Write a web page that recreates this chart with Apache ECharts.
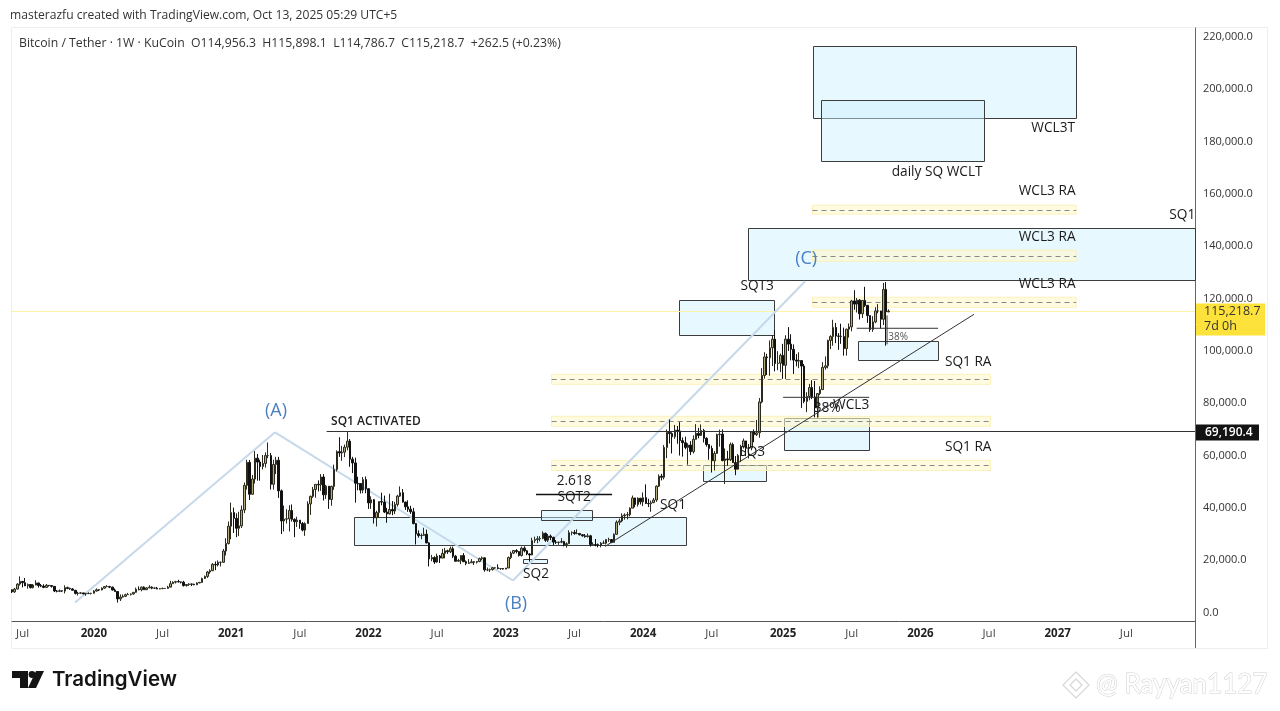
<!DOCTYPE html>
<html><head><meta charset="utf-8">
<style>html,body{margin:0;padding:0;background:#fff}#c{width:1280px;height:711px}</style>
<script src="https://cdn.jsdelivr.net/npm/echarts@6/dist/echarts.min.js"></script>
</head><body><div id="c"></div>
<script>
// Weekly candles, in thousands of USD: [high, low, close]. Open = prior close.
const firstWeek = '2019-06-03';
const firstOpen = 8.7;
const weeks2019 = [[8.8,7.45,7.9],[9.4,7.5,8.95],[11.2,8.9,10.85],[13.8,10.3,11.9],[12.0,9.6,11.4],[13.2,10.1,10.2],[11.1,9.1,10.7],[10.7,9.2,9.5],[10.9,9.2,10.5],[12.3,10.4,11.3],[11.4,9.5,10.3],[10.9,9.7,10.1],[10.8,9.3,9.6],[10.9,9.5,10.4],[10.5,9.9,10.3],[10.4,9.5,10.0],[10.1,7.8,8.2],[8.6,7.7,8.1],[8.8,7.8,8.3],[8.4,7.8,8.2],[10.4,7.3,9.5],[9.9,8.9,9.2],[9.5,8.7,9.0],[9.3,8.4,8.5],[8.6,6.9,7.3],[7.9,6.5,7.4],[7.7,7.1,7.5],[7.5,7.0,7.1],[7.5,6.4,7.2],[7.7,7.1,7.3]];
const weeks2020 = [[7.5,6.9,7.35],[8.5,7.3,8.2],[9.2,8.0,8.7],[8.8,8.2,8.6],[9.6,8.5,9.3],[10.1,9.1,9.9],[10.5,9.7,9.9],[10.2,9.3,9.7],[9.9,8.4,8.6],[9.2,8.0,8.0],[8.2,3.8,5.2],[6.9,4.4,5.9],[6.9,5.7,6.2],[7.2,5.9,6.8],[7.5,6.7,6.9],[7.3,6.5,7.1],[7.8,6.8,7.7],[9.5,7.6,8.9],[10.0,8.5,8.7],[9.9,8.1,9.7],[10.0,8.8,8.7],[9.7,8.6,9.4],[10.4,9.3,9.7],[10.0,8.9,9.3],[9.6,9.0,9.3],[9.8,8.9,9.0],[9.3,8.9,9.1],[9.5,9.0,9.2],[9.3,9.1,9.2],[10.2,9.1,9.7],[12.1,9.9,11.0],[11.9,11.0,11.6],[12.1,11.1,11.8],[12.5,11.5,11.7],[11.8,11.1,11.6],[12.1,9.9,10.3],[10.7,9.9,10.7],[11.2,10.2,10.9],[11.0,10.1,10.8],[11.0,10.4,10.6],[11.5,10.5,11.3],[11.7,11.2,11.5],[13.3,11.4,13.0],[14.1,12.8,13.8],[15.9,13.2,15.5],[16.5,14.8,16.0],[18.9,15.8,18.4],[19.5,16.2,18.2],[19.9,17.6,19.2],[19.4,17.6,19.2],[24.3,19.0,23.5],[28.4,21.8,26.4],[34.8,26.0,33.0]];
const weeks2021 = [[42.0,28.0,38.2],[40.1,30.4,36.0],[37.9,28.8,32.2],[38.5,29.2,33.1],[40.9,32.3,39.2],[49.7,38.0,48.6],[58.4,47.0,57.4],[58.3,43.0,45.2],[52.6,45.0,51.0],[61.7,49.3,59.0],[60.6,50.4,57.5],[58.4,50.4,55.8],[60.2,54.7,57.0],[61.2,55.4,60.0],[65.0,59.0,60.0],[61.0,47.0,49.0],[58.4,47.0,56.6],[59.5,52.9,58.2],[59.5,43.8,46.5],[47.0,30.0,35.0],[40.9,31.0,35.7],[39.5,34.0,35.8],[41.0,31.0,39.0],[41.3,34.8,35.6],[36.0,28.8,34.7],[36.6,32.7,35.3],[35.0,32.0,34.0],[34.6,31.0,31.5],[34.5,29.3,34.0],[42.5,34.0,41.5],[44.7,37.3,44.4],[48.0,43.8,47.0],[49.0,43.9,49.0],[50.5,46.3,48.8],[52.9,46.5,51.8],[52.9,42.8,45.0],[48.8,43.4,48.3],[48.3,39.6,43.2],[48.5,40.8,48.2],[56.5,46.9,54.7],[62.0,53.9,61.5],[67.0,59.5,61.0],[63.7,58.0,61.3],[64.2,59.4,63.2],[69.0,62.0,65.5],[66.3,55.7,58.6],[59.5,53.3,57.2],[59.2,42.0,49.4],[51.9,46.7,49.3],[49.5,45.5,46.8],[51.8,45.6,50.8],[52.0,45.6,47.3]];
const weeks2022 = [[47.5,39.6,41.9],[44.4,39.6,43.1],[43.4,34.0,36.2],[38.9,32.9,38.2],[42.5,36.2,42.4],[45.8,41.0,42.2],[44.7,38.0,38.4],[40.0,34.3,37.7],[45.4,37.5,39.4],[42.6,37.2,38.8],[42.3,37.6,41.3],[45.0,40.5,44.5],[48.2,44.2,45.8],[47.2,42.0,42.2],[42.4,39.2,40.4],[42.9,38.5,39.5],[40.8,37.7,38.5],[40.0,33.7,34.0],[34.2,26.0,30.1],[31.4,28.6,29.4],[30.2,28.0,29.5],[32.4,29.3,29.9],[31.7,26.5,26.6],[26.9,17.6,20.5],[22.0,19.6,21.0],[21.5,18.6,19.3],[22.5,19.0,21.6],[22.0,18.9,20.8],[24.3,20.7,22.6],[24.7,20.7,23.6],[24.0,22.4,23.2],[25.2,22.7,24.4],[25.2,20.8,21.5],[22.0,19.6,19.6],[20.5,19.5,19.9],[21.8,18.5,21.8],[22.7,19.3,19.4],[19.9,18.1,18.8],[20.4,18.5,19.0],[20.4,19.0,19.4],[19.5,18.2,19.2],[19.7,18.7,19.5],[21.0,19.2,20.6],[21.4,20.0,20.9],[21.0,15.6,16.3],[17.2,15.8,16.3],[16.8,15.5,16.4],[17.4,16.0,17.1],[17.4,16.7,17.1],[18.4,16.5,16.8],[17.0,16.3,16.8],[17.0,16.4,16.6]];
const weeks2023 = [[17.0,16.5,17.0],[21.4,17.0,21.0],[23.3,20.4,22.7],[23.9,22.3,23.7],[24.2,22.6,23.3],[23.4,21.4,21.8],[25.2,21.4,24.6],[25.3,23.0,23.6],[23.9,21.9,22.4],[22.6,19.5,22.0],[28.6,21.9,27.5],[29.0,26.6,27.9],[29.2,26.5,28.2],[29.2,27.2,28.3],[31.0,28.0,30.3],[30.5,27.0,27.6],[30.0,26.9,29.2],[29.8,27.7,28.7],[29.0,25.8,26.9],[27.7,26.2,26.8],[26.9,25.9,26.9],[28.4,26.5,27.1],[27.4,25.3,25.9],[26.8,24.8,26.3],[31.4,26.3,30.5],[31.0,29.5,30.6],[31.5,29.7,30.2],[31.8,29.9,30.2],[30.4,29.5,29.7],[30.0,29.0,29.3],[30.0,28.6,29.0],[30.2,28.7,29.3],[29.7,25.2,26.0],[26.8,25.8,26.0],[28.1,25.3,25.9],[26.4,24.9,25.8],[26.9,24.9,26.5],[27.5,26.3,26.5],[28.0,26.0,27.9],[28.6,27.0,27.9],[28.0,26.5,26.8],[30.2,26.8,29.9],[35.2,29.8,34.5],[35.9,33.4,35.0],[37.9,34.5,37.0],[37.9,35.5,37.3],[38.4,35.6,37.4],[40.2,36.7,39.9],[44.7,39.9,43.8],[43.4,40.2,41.3],[44.0,40.5,43.7],[43.8,41.3,42.3]];
const weeks2024 = [[45.9,40.7,43.9],[49.0,41.5,41.7],[43.5,40.3,41.6],[42.8,38.5,42.0],[43.8,41.8,43.0],[48.6,42.3,48.3],[52.8,48.0,52.1],[53.0,50.5,51.7],[64.0,50.9,63.1],[70.0,59.0,68.9],[73.8,64.6,68.4],[68.9,60.8,67.2],[71.7,66.4,69.7],[71.3,64.5,69.4],[72.8,60.0,65.7],[66.9,59.6,64.9],[67.2,62.4,63.1],[64.7,56.5,64.0],[65.5,60.2,61.5],[67.7,60.8,66.2],[72.0,66.1,68.5],[70.6,66.6,67.7],[71.9,67.5,69.6],[70.2,65.0,66.6],[67.0,63.4,64.2],[64.0,58.4,62.7],[63.8,53.5,58.0],[61.7,54.3,60.8],[68.4,62.0,68.0],[69.9,63.4,68.2],[70.0,57.8,58.1],[62.7,49.1,58.7],[61.8,56.1,58.4],[65.0,57.9,64.2],[64.9,57.2,57.3],[59.8,52.5,54.8],[60.6,54.6,60.0],[64.1,57.5,63.5],[66.5,62.7,65.6],[65.6,59.8,62.8],[64.4,58.9,62.9],[69.4,62.0,69.0],[70.0,65.1,68.0],[73.6,67.5,68.7],[82.0,66.8,80.5],[93.4,80.0,90.6],[99.5,89.4,97.7],[98.9,90.8,97.4],[104.0,90.5,101.2],[106.0,94.2,104.5],[108.0,92.2,95.2],[99.9,92.6,95.3]];
const weeks2025 = [[99.0,91.9,98.3],[102.7,89.3,94.5],[106.0,89.3,104.5],[109.1,100.0,102.6],[106.4,96.4,100.6],[102.5,91.2,96.5],[98.8,94.1,96.1],[99.5,93.4,96.3],[96.5,78.2,94.2],[95.0,80.0,80.7],[84.2,76.6,82.6],[87.4,81.1,86.0],[88.8,81.6,82.4],[88.5,74.6,78.2],[83.5,74.5,83.7],[86.5,83.1,85.2],[95.7,85.1,93.7],[97.9,92.8,94.3],[104.3,93.3,104.0],[106.0,100.7,105.5],[111.9,102.0,109.0],[110.7,103.0,105.7],[106.8,100.4,105.6],[110.4,102.7,105.5],[108.9,98.2,100.9],[108.5,98.2,108.3],[110.5,105.1,109.2],[119.5,107.5,119.1],[123.2,115.7,117.9],[120.2,114.7,119.4],[119.8,112.0,114.2],[119.3,112.6,119.3],[124.5,116.8,117.4],[117.6,110.7,113.5],[113.5,107.3,108.2],[113.3,107.3,111.1],[116.7,110.6,115.3],[117.9,114.4,115.3],[115.3,108.6,112.1],[126.0,109.9,123.5],[126.3,102.0,114.956],[115.898,114.787,115.219]];

// Axis ticks
const priceTicks = [0,20000,40000,60000,80000,100000,120000,140000,160000,180000,200000,220000];
const monthTicks = {'2019-07-01':'Jul','2020-01-06':'2020','2020-07-06':'Jul','2021-01-04':'2021','2021-07-05':'Jul','2022-01-03':'2022','2022-07-04':'Jul','2023-01-02':'2023','2023-07-03':'Jul','2024-01-01':'2024','2024-07-01':'Jul','2025-01-06':'2025','2025-07-07':'Jul','2026-01-05':'2026','2026-07-06':'Jul','2027-01-04':'2027','2027-07-05':'Jul'};

// Annotations, in decimal years and USD
const blueBoxes = [ // from, to, top, bottom
 [2025.22,2027.13,216550,189000],[2025.28,2026.46,195900,172550],[2024.75,2027.999,146900,127000],
 [2024.25,2024.94,119400,106000],[2025.55,2026.13,103700,96400],[2025.01,2025.63,74200,62000],
 [2024.43,2024.88,56200,50100],[2021.90,2024.30,36350,25630],[2023.25,2023.62,39000,35200],[2023.12,2023.30,20300,18750]];
const yellowBands = [ // from, to, top, mid, bottom
 [2025.22,2027.13,155700,154000,152300],[2025.22,2027.13,138500,136200,134300],[2025.22,2027.13,120500,118600,116700],
 [2023.33,2026.51,91050,89100,87230],[2023.33,2026.51,75000,73100,71200],[2023.33,2026.51,58150,56240,54300]];
const wavePoints = [[2019.877,3826],[2021.326,68870],[2023.05,12240],[2025.167,126640]];
const inkLines = [ // from year, from price, to year, to price
 [2023.717,25250,2026.39,114000],[2021.70,69190.4,2027.999,69190.4],
 [2025.54,108660,2026.13,108660],[2025.76,113600,2025.76,102500],[2025.007,82260,2025.63,82260],[2025.26,82260,2025.26,74600]];
const heavyLine = [2023.217,45150,2023.768,45150];
const waveLabels = [['(A)',2021.333,76900],['(B)',2023.072,3440],['(C)',2025.174,135060]];
const noteLabels = [['2.618',2023.493,50120],['SQT2',2023.493,44000],['SQ2',2023.217,14540],['SQ1',2024.21,40940],['SQ3',2024.783,61220],['SQT3',2024.819,124730],['WCL3',2025.50,79200],['38%',2025.326,78050],['SQ1 RA',2026.348,95650],['SQ1 RA',2026.348,63130],['WCL3 RA',2026.92,161070],['WCL3 RA',2026.92,143470],['WCL3 RA',2026.92,125490],['SQ1',2027.899,151890],['WCL3T',2026.964,185180],['daily SQ WCLT',2026.123,168340]];
const activatedLabel = ['SQ1 ACTIVATED',2021.732,73080];
const fibLabel = ['38%',2025.841,105200];
const lastPrice = 115218.7, lastCountdown = '7d 0h', activatedPrice = 69190.4;
const legendText = 'Bitcoin / Tether · 1W · KuCoin  O114,956.3  H115,898.1  L114,786.7  C115,218.7  +262.5 (+0.23%)';
const creditText = 'masterazfu created with TradingView.com, Oct 13, 2025 05:29 UTC+5';

const FONT = '"Open Sans","Noto Sans",sans-serif';
const rows = [...weeks2019,...weeks2020,...weeks2021,...weeks2022,...weeks2023,...weeks2024,...weeks2025];
const candles = rows.map((r,i)=>{const o=i?rows[i-1][2]:firstOpen;return [o*1000,r[2]*1000,r[1]*1000,r[0]*1000];});
const WEEK = 7*864e5, TOTAL = 449;
const start = Date.parse(firstWeek+'T00:00:00Z');
const categories = Array.from({length:TOTAL},(_,i)=>new Date(start+i*WEEK).toISOString().slice(0,10));
const WEEKS_AT_2020 = 30.3, WEEKS_PER_YEAR = 52.27;
const weekOfYear = y => Math.min(TOTAL-1, WEEKS_AT_2020+(y-2020)*WEEKS_PER_YEAR);
function xAt(api,year){const w=weekOfYear(year),f=Math.min(Math.floor(w),TOTAL-2);const a=api.coord([f,0])[0],b=api.coord([f+1,0])[0];return a+(w-f)*(b-a);}
const yAt=(api,p)=>api.coord([0,p])[1];
const crisp=v=>Math.round(v)+0.5;
function customSeries(list,z,render,extra){return Object.assign({type:'custom',z,silent:true,data:list.map((_,i)=>[i,0]),encode:{x:0,y:1},renderItem:(p,api)=>render(list[p.dataIndex],api)},extra||{});}
const textItem=(t,api,font,fill,align)=>({type:'text',style:{text:t[0],x:xAt(api,t[1]),y:yAt(api,t[2]),font,fill,textAlign:align||'center',textVerticalAlign:'middle'}});
const segment=(l,api,stroke,lineWidth)=>({type:'line',shape:{x1:xAt(api,l[0]),y1:yAt(api,l[1]),x2:xAt(api,l[2]),y2:yAt(api,l[3])},style:{stroke,lineWidth}});

const chart = echarts.init(document.getElementById('c'),null,{width:1280,height:711,renderer:'canvas'});
chart.setOption({
 animation:false,backgroundColor:'#fff',
 grid:{left:12,right:85,top:28,bottom:90,containLabel:false},
 xAxis:{type:'category',data:categories,boundaryGap:false,
  axisLine:{onZero:false,lineStyle:{color:'#555',width:1}},axisTick:{show:false},splitLine:{show:false},
  axisLabel:{interval:(i,v)=>v in monthTicks,hideOverlap:false,margin:7,
   formatter:v=>{const t=monthTicks[v];return t==='Jul'?'{m|Jul}':'{y|'+t+'}';},
   rich:{m:{fontFamily:FONT,fontSize:11.5,color:'#444'},y:{fontFamily:FONT,fontSize:11.5,fontWeight:700,color:'#222'}}}},
 yAxis:{type:'value',position:'right',min:-3250,max:223450,scale:false,
  axisLine:{show:true,lineStyle:{color:'#666',width:1}},axisTick:{show:false},splitLine:{show:false},
  axisLabel:{customValues:priceTicks,margin:8,fontFamily:FONT,fontSize:11,color:'#333',align:'left',padding:[2,0,0,0],
   formatter:v=>v.toLocaleString('en-US',{minimumFractionDigits:1,maximumFractionDigits:1})}},
 series:[
  customSeries(blueBoxes,1,(b,api)=>{const x1=crisp(xAt(api,b[0])),x2=crisp(xAt(api,b[1])),y1=crisp(yAt(api,b[2])),y2=crisp(yAt(api,b[3]));
    return {type:'rect',shape:{x:x1,y:y1,width:x2-x1,height:y2-y1},style:{fill:'rgba(205,240,255,0.45)',stroke:'#3c3c3c',lineWidth:1}};}),
  customSeries(yellowBands,2,(b,api)=>{const x1=xAt(api,b[0]),x2=xAt(api,b[1]),y1=yAt(api,b[2]),y2=yAt(api,b[4]),m=crisp(yAt(api,b[3]));
    return {type:'group',children:[
     {type:'rect',shape:{x:x1,y:y1,width:x2-x1,height:y2-y1},style:{fill:'rgba(255,248,205,0.6)',stroke:'#fbf1b8',lineWidth:1}},
     {type:'line',shape:{x1,y1:m,x2,y2:m},style:{stroke:'#888',lineWidth:1,lineDash:[5,4]}}]};}),
  customSeries([lastPrice],2,(p,api)=>{const y=crisp(yAt(api,p));return {type:'line',shape:{x1:12,y1:y,x2:1195,y2:y},style:{stroke:'#fdf3a8',lineWidth:1}};}),
  customSeries(wavePoints.slice(1),3,(p,api)=>{const i=wavePoints.indexOf(p),q=wavePoints[i-1];return segment([q[0],q[1],p[0],p[1]],api,'#c6d9ea',2);}),
  {type:'candlestick',z:4,silent:true,data:candles,barWidth:2,
   itemStyle:{color:'#b3ab7c',color0:'#111',borderColor:'#2b2a1c',borderColor0:'#111',borderWidth:1}},
  customSeries(inkLines,5,(l,api)=>segment(l,api,'#333',1)),
  customSeries([heavyLine],5,(l,api)=>segment(l,api,'#111',1.5)),
  customSeries(waveLabels,6,(t,api)=>textItem(t,api,'18px '+FONT,'#4a7fc4')),
  customSeries(noteLabels,6,(t,api)=>textItem(t,api,'13.7px '+FONT,'#1a1a1a')),
  customSeries([activatedLabel],6,(t,api)=>textItem(t,api,'600 12px '+FONT,'#222','left')),
  customSeries([fibLabel],6,(t,api)=>textItem(t,api,'10px '+FONT,'#555')),
  customSeries([[lastPrice,'#fde23c','#333'],[activatedPrice,'#131313','#fff']],7,(t,api)=>{
    const y=crisp(yAt(api,t[0])),isLast=t[0]===lastPrice,s=t[0].toLocaleString('en-US',{minimumFractionDigits:1});
    const top=y-8,h=isLast?32:16,w=isLast?69:63,font=(isLast?'12.5px ':'600 12px ')+FONT;
    const kids=[{type:'rect',shape:{x:1196,y:top,width:w,height:h},style:{fill:t[1]}},
     {type:'text',style:{text:s,x:isLast?1204:1205,y:top+8,font,fill:t[2],textVerticalAlign:'middle'}}];
    if(isLast)kids.push({type:'text',style:{text:lastCountdown,x:1204,y:top+23,font,fill:t[2],textVerticalAlign:'middle'}});
    return {type:'group',children:kids};},{clip:false})
 ],
 graphic:[
  {type:'rect',silent:true,z:-1,shape:{x:11.5,y:27.5,width:1256,height:621},style:{fill:'none',stroke:'#eeeeee',lineWidth:1}},
  {type:'line',silent:true,shape:{x1:1195.5,y1:620,x2:1195.5,y2:648},style:{stroke:'#666',lineWidth:1}},
  {type:'text',silent:true,style:{text:creditText,x:10,y:16,font:'12.1px '+FONT,fill:'#333',textVerticalAlign:'middle'}},
  {type:'text',silent:true,z:20,style:{text:legendText,x:19,y:44,font:'12.25px '+FONT,fill:'#333',textVerticalAlign:'middle'}},
  {type:'polygon',silent:true,shape:{points:[[12,671],[28,671],[28,688],[20,688],[20,678],[12,678]]},style:{fill:'#141414'}},
  {type:'polygon',silent:true,shape:{points:[[36,671],[44,671],[36,688],[28,688]]},style:{fill:'#141414'}},
  {type:'circle',silent:true,shape:{cx:32,cy:674.5,r:3.4},style:{fill:'#141414'}},
  {type:'text',silent:true,style:{text:'TradingView',x:52,y:680,font:'600 20.5px Inter,"Open Sans",sans-serif',fill:'#141414',textVerticalAlign:'middle'}},
  {type:'polygon',silent:true,shape:{points:[[1076,672],[1089,685],[1076,698],[1063,685]]},style:{fill:'#fff',stroke:'#d6d6d6',lineWidth:1.2}},
  {type:'polygon',silent:true,shape:{points:[[1076,679],[1082,685],[1076,691],[1070,685]]},style:{fill:'#fff',stroke:'#d6d6d6',lineWidth:1.2}},
  {type:'text',silent:true,style:{text:'@ Rayyan1127',x:1096,y:685,font:'26px Lato,"Open Sans",sans-serif',fill:'#fff',stroke:'#cfcfcf',lineWidth:1,textVerticalAlign:'middle'}}
 ]
});
</script></body></html>
